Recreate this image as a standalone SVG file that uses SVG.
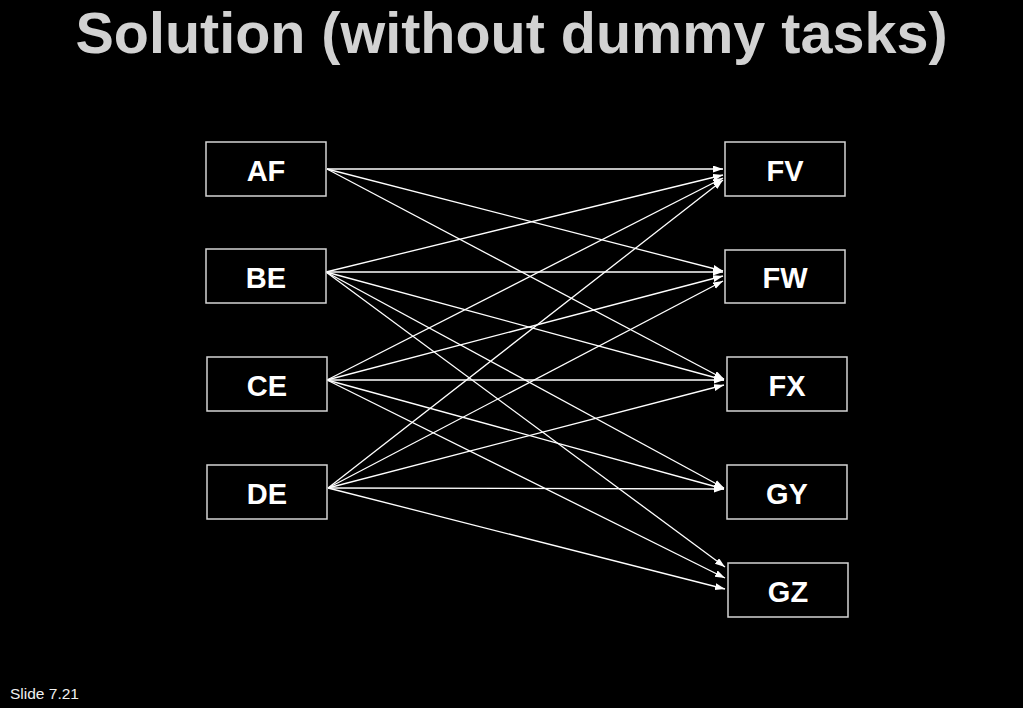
<svg xmlns="http://www.w3.org/2000/svg" width="1023" height="708" viewBox="0 0 1023 708">
<defs>
<style>
.box{fill:#000;stroke:#d4d4d4;stroke-width:1.5}
.lbl{font-family:"Liberation Sans",Arial,sans-serif;font-weight:bold;font-size:29px;fill:#fff;text-anchor:middle}
.edge{stroke:#fff;stroke-width:1.3;fill:none;marker-end:url(#ah)}
</style>
<marker id="ah" markerUnits="userSpaceOnUse" markerWidth="11" markerHeight="8" refX="10" refY="3.5" orient="auto">
<path d="M0,0 L10,3.5 L0,7 z" fill="#fff"/>
</marker>
</defs>
<rect width="1023" height="708" fill="#000"/>
<text x="511.5" y="53" font-family="'Liberation Sans',Arial,sans-serif" font-weight="bold" font-size="57.5" fill="#d2d2d2" text-anchor="middle">Solution (without dummy tasks)</text>
<text x="10" y="699" font-family="'Liberation Sans',Arial,sans-serif" font-size="15.5" fill="#f0f0f0">Slide 7.21</text>
<g id="connectors">
<line class="edge" x1="327" y1="169" x2="723" y2="169"/>
<line class="edge" x1="327" y1="169" x2="723" y2="271"/>
<line class="edge" x1="327" y1="169" x2="724" y2="379"/>
<line class="edge" x1="326" y1="272" x2="723" y2="175"/>
<line class="edge" x1="326" y1="272" x2="723" y2="272"/>
<line class="edge" x1="326" y1="272" x2="724" y2="380"/>
<line class="edge" x1="326" y1="272" x2="724" y2="488"/>
<line class="edge" x1="326" y1="272" x2="725" y2="567"/>
<line class="edge" x1="327" y1="380" x2="723" y2="178"/>
<line class="edge" x1="327" y1="380" x2="723" y2="276"/>
<line class="edge" x1="327" y1="380" x2="724" y2="380"/>
<line class="edge" x1="327" y1="380" x2="724" y2="489"/>
<line class="edge" x1="327" y1="380" x2="725" y2="578"/>
<line class="edge" x1="328" y1="488" x2="723" y2="180"/>
<line class="edge" x1="328" y1="488" x2="723" y2="281"/>
<line class="edge" x1="328" y1="488" x2="724" y2="385"/>
<line class="edge" x1="328" y1="488" x2="724" y2="489"/>
<line class="edge" x1="328" y1="488" x2="725" y2="589"/>
</g>
<g id="AF"><rect class="box" x="206" y="142" width="120" height="54"/><text class="lbl" x="266" y="180.5">AF</text></g>
<g id="BE"><rect class="box" x="206" y="249" width="120" height="54"/><text class="lbl" x="266" y="287.5">BE</text></g>
<g id="CE"><rect class="box" x="207" y="357" width="120" height="54"/><text class="lbl" x="267" y="395.5">CE</text></g>
<g id="DE"><rect class="box" x="207" y="465" width="120" height="54"/><text class="lbl" x="267" y="503.5">DE</text></g>
<g id="FV"><rect class="box" x="725" y="142" width="120" height="54"/><text class="lbl" x="785" y="180.5">FV</text></g>
<g id="FW"><rect class="box" x="725" y="250" width="120" height="53"/><text class="lbl" x="785" y="287.5">FW</text></g>
<g id="FX"><rect class="box" x="727" y="357" width="120" height="54"/><text class="lbl" x="787" y="395.5">FX</text></g>
<g id="GY"><rect class="box" x="727" y="465" width="120" height="54"/><text class="lbl" x="787" y="503.5">GY</text></g>
<g id="GZ"><rect class="box" x="728" y="563" width="120" height="54"/><text class="lbl" x="788" y="601.5">GZ</text></g>
</svg>
